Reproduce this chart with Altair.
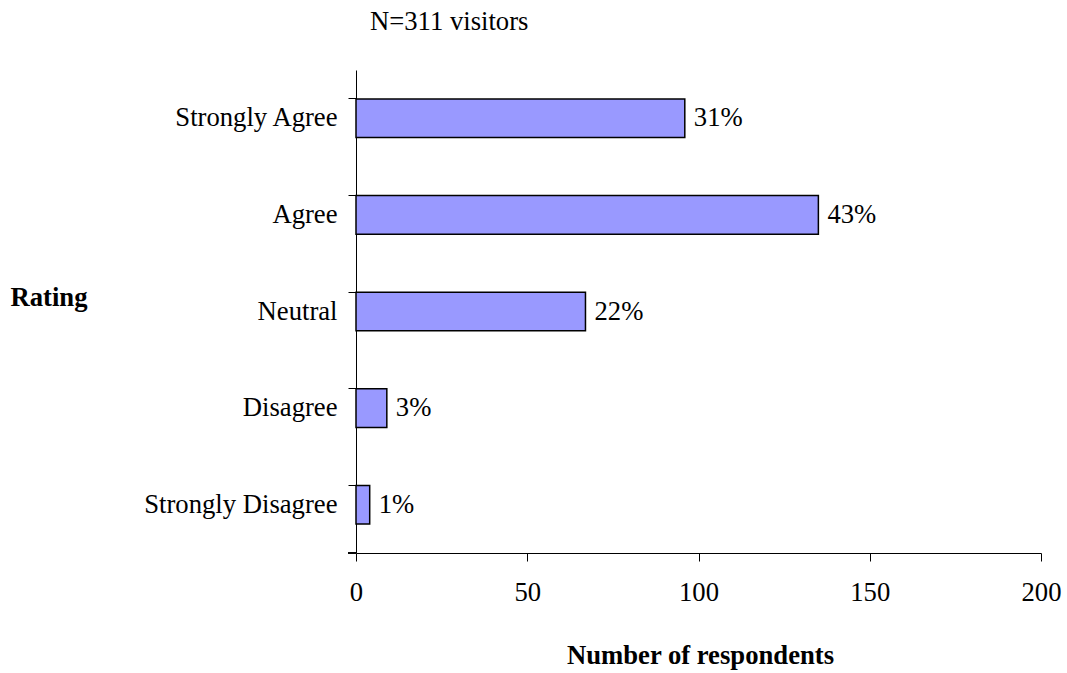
import altair as alt
import pandas as pd

ratings = ["Strongly Agree", "Agree", "Neutral", "Disagree", "Strongly Disagree"]
counts = [96, 135, 67, 9, 4]
pct_labels = ["31%", "43%", "22%", "3%", "1%"]
x_ticks = [0, 50, 100, 150, 200]

df = pd.DataFrame({"Rating": ratings, "Count": counts, "Label": pct_labels})

FONT = "Liberation Serif"
FS = 26.67

y_enc = alt.Y(
    "Rating:N",
    sort=ratings,
    scale=alt.Scale(paddingInner=0.6, paddingOuter=0.3),
    axis=alt.Axis(
        title="Rating",
        titleAngle=0,
        titleAlign="left",
        titleBaseline="middle",
        titleX=-346,
        titleY=227,
        titleFont=FONT,
        titleFontSize=FS,
        titleFontWeight="bold",
        titleColor="black",
        labelFont=FONT,
        labelFontSize=FS,
        labelColor="black",
        labelPadding=11,
        tickSize=8,
        tickColor="black",
        domainColor="black",
        bandPosition=0,
        grid=False,
        labelLimit=400,
    ),
)

x_enc = alt.X(
    "Count:Q",
    scale=alt.Scale(domain=[0, 200], nice=False),
    axis=alt.Axis(
        values=x_ticks,
        title="Number of respondents",
        titleX=344,
        titleY=110,
        titleBaseline="alphabetic",
        titleFont=FONT,
        titleFontSize=FS,
        titleFontWeight="bold",
        titleColor="black",
        labelFont=FONT,
        labelFontSize=FS,
        labelColor="black",
        labelPadding=18,
        labelFlush=False,
        labelOverlap=False,
        tickSize=8,
        tickColor="black",
        domainColor="black",
        grid=False,
    ),
)

bars = alt.Chart(df).mark_bar(
    fill="#9999FF", stroke="black", strokeWidth=1.5
).encode(x=x_enc, y=y_enc)

labels = alt.Chart(df).mark_text(
    align="left", baseline="middle", dx=9, font=FONT, fontSize=FS, color="black"
).encode(x="Count:Q", y=alt.Y("Rating:N", sort=ratings), text="Label:N")

corner = alt.Chart(df).mark_rule(color="black", strokeWidth=1).encode(
    x=alt.value(-8), x2=alt.value(0), y=alt.value(483)
)

chart = (
    alt.layer(bars, labels, corner)
    .properties(
        width=685,
        height=483,
        autosize=alt.AutoSizeParams(type="none"),
        padding={"left": 356, "top": 70, "right": 26, "bottom": 120},
        view=alt.ViewBackground(stroke="transparent", strokeWidth=0),
        title=alt.TitleParams(
            "N=311 visitors",
            anchor="start",
            frame="group",
            dx=14,
            offset=13,
            baseline="alphabetic",
            font=FONT,
            fontSize=FS,
            fontWeight="normal",
            color="black",
        ),
    )
    .configure_view(strokeWidth=0, stroke="transparent")
    .configure(background="white")
)

chart.save("out.html", embed_options={"renderer": "svg", "actions": False})
